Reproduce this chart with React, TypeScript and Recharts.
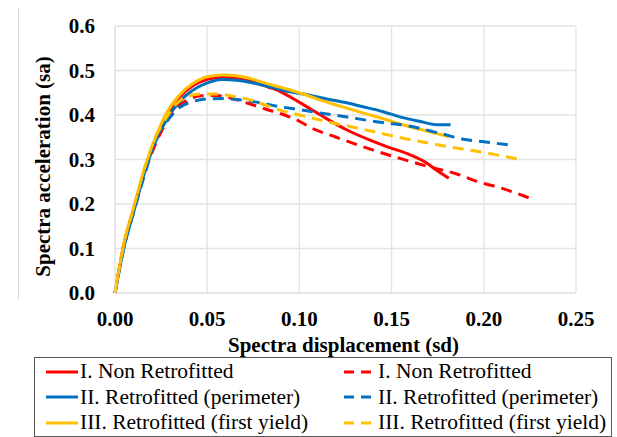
import { LineChart, Line, XAxis, YAxis, CartesianGrid } from "recharts";

// I. Non Retrofitted (solid)
const nonRetroSd = [0, 0.005, 0.01, 0.016, 0.022, 0.028, 0.035, 0.042, 0.05, 0.058, 0.066, 0.075, 0.083, 0.09, 0.097, 0.105, 0.113, 0.125, 0.138, 0.148, 0.158, 0.169, 0.175, 0.181];
const nonRetroSa = [0, 0.112, 0.186, 0.276, 0.345, 0.4, 0.44, 0.465, 0.48, 0.485, 0.482, 0.474, 0.463, 0.452, 0.436, 0.416, 0.396, 0.368, 0.344, 0.328, 0.314, 0.292, 0.274, 0.258];

// II. Retrofitted (perimeter) (solid)
const perimSd = [0, 0.005, 0.01, 0.016, 0.022, 0.028, 0.035, 0.042, 0.05, 0.058, 0.066, 0.075, 0.085, 0.095, 0.105, 0.115, 0.125, 0.134, 0.145, 0.156, 0.165, 0.175, 0.182];
const perimSa = [0, 0.105, 0.18, 0.27, 0.34, 0.39, 0.43, 0.455, 0.472, 0.48, 0.478, 0.472, 0.462, 0.452, 0.445, 0.436, 0.428, 0.419, 0.408, 0.394, 0.386, 0.378, 0.378];

// III. Retrofitted (first yield) (solid)
const yieldSd = [0, 0.005, 0.01, 0.016, 0.022, 0.028, 0.035, 0.042, 0.05, 0.058, 0.066, 0.075, 0.082, 0.09, 0.1, 0.111, 0.122, 0.1325, 0.145, 0.156, 0.165, 0.175, 0.181];
const yieldSa = [0, 0.115, 0.19, 0.28, 0.35, 0.405, 0.445, 0.47, 0.486, 0.49, 0.488, 0.48, 0.471, 0.462, 0.45, 0.434, 0.42, 0.407, 0.392, 0.378, 0.368, 0.358, 0.351];

// dashed counterparts
const nonRetroDashSd = [0, 0.005, 0.01, 0.016, 0.022, 0.028, 0.034, 0.04, 0.047, 0.055, 0.063, 0.073, 0.082, 0.089, 0.098, 0.107, 0.12, 0.14, 0.155, 0.17, 0.185, 0.197, 0.21, 0.225];
const nonRetroDashSa = [0, 0.11, 0.185, 0.27, 0.335, 0.385, 0.418, 0.435, 0.443, 0.444, 0.438, 0.425, 0.413, 0.404, 0.39, 0.37, 0.35, 0.321, 0.302, 0.284, 0.268, 0.25, 0.235, 0.213];

const perimDashSd = [0, 0.005, 0.01, 0.016, 0.022, 0.028, 0.0355, 0.042, 0.05, 0.058, 0.068, 0.078, 0.089, 0.1, 0.112, 0.125, 0.14, 0.161, 0.175, 0.19, 0.2, 0.213];
const perimDashSa = [0, 0.105, 0.18, 0.265, 0.345, 0.385, 0.418, 0.43, 0.436, 0.437, 0.434, 0.428, 0.419, 0.412, 0.404, 0.396, 0.386, 0.374, 0.36, 0.345, 0.34, 0.333];

const yieldDashSd = [0, 0.005, 0.01, 0.016, 0.022, 0.028, 0.034, 0.04, 0.047, 0.055, 0.063, 0.0733, 0.0894, 0.1, 0.115, 0.13, 0.143, 0.157, 0.17, 0.185, 0.197, 0.21, 0.219];
const yieldDashSa = [0, 0.113, 0.19, 0.28, 0.35, 0.395, 0.428, 0.443, 0.447, 0.447, 0.443, 0.434, 0.411, 0.4, 0.385, 0.372, 0.36, 0.347, 0.337, 0.326, 0.318, 0.308, 0.301];

const xTicks = [0, 0.05, 0.1, 0.15, 0.2, 0.25];
const yTicks = [0, 0.1, 0.2, 0.3, 0.4, 0.5, 0.6];

const RED = "#FF0000";
const BLUE = "#0070C0";
const GOLD = "#FFC000";
const FONT = '"Liberation Serif", "Times New Roman", Tinos, "DejaVu Serif", serif';

const toPoints = (sd: number[], sa: number[]) => sd.map((x, i) => ({ sd: x, sa: sa[i] }));

const series = [
  { key: "s1", name: "I. Non Retrofitted", color: RED, dashed: false, data: toPoints(nonRetroSd, nonRetroSa) },
  { key: "s2", name: "II. Retrofitted (perimeter)", color: BLUE, dashed: false, data: toPoints(perimSd, perimSa) },
  { key: "s3", name: "III. Retrofitted (first yield)", color: GOLD, dashed: false, data: toPoints(yieldSd, yieldSa) },
  { key: "d1", name: "I. Non Retrofitted", color: RED, dashed: true, data: toPoints(nonRetroDashSd, nonRetroDashSa) },
  { key: "d2", name: "II. Retrofitted (perimeter)", color: BLUE, dashed: true, data: toPoints(perimDashSd, perimDashSa) },
  { key: "d3", name: "III. Retrofitted (first yield)", color: GOLD, dashed: true, data: toPoints(yieldDashSd, yieldDashSa) },
];

const DASH = "11 7";

function YTitle(props: any) {
  const vb = props.viewBox;
  const cy = vb.y + vb.height / 2 + 7;
  return (
    <text
      x={43}
      y={cy}
      transform={`rotate(-90, 43, ${cy})`}
      textAnchor="middle"
      dominantBaseline="central"
      style={{ fontFamily: FONT }}
      fontWeight="bold"
      fontSize={21}
      fill="#000"
    >
      Spectra acceleration (sa)
    </text>
  );
}

function XTitle(props: any) {
  const vb = props.viewBox;
  const cx = vb.x + vb.width / 2 - 2;
  return (
    <text
      x={cx}
      y={345}
      textAnchor="middle"
      dominantBaseline="central"
      style={{ fontFamily: FONT }}
      fontWeight="bold"
      fontSize={21}
      fill="#000"
    >
      Spectra displacement (sd)
    </text>
  );
}

function LegendBox() {
  const solids = series.filter((s) => !s.dashed);
  const dashes = series.filter((s) => s.dashed);
  const item = (s: (typeof series)[number]) => (
    <div key={s.key} style={{ display: "flex", alignItems: "center", height: 25.5 }}>
      <svg width={32} height={6} style={{ marginRight: 2 }}>
        <line
          x1={0}
          y1={3}
          x2={32}
          y2={3}
          stroke={s.color}
          strokeWidth={3}
          strokeDasharray={s.dashed ? "10 7" : undefined}
        />
      </svg>
      <span>{s.name}</span>
    </div>
  );
  return (
    <div
      style={{
        position: "absolute",
        left: 34,
        top: 357,
        width: 578,
        height: 80,
        boxSizing: "border-box",
        border: "1px solid #595959",
        fontFamily: FONT,
        fontSize: 21.5,
        color: "#000",
        display: "flex",
        paddingLeft: 11,
        paddingTop: 1,
        whiteSpace: "nowrap",
      }}
    >
      <div style={{ width: 298 }}>{solids.map(item)}</div>
      <div>{dashes.map(item)}</div>
    </div>
  );
}

export default function App() {
  return (
    <div style={{ position: "relative", width: 617, height: 437, background: "#fff", fontFamily: FONT }}>
      <style>{`body{margin:0}`}</style>
      <div style={{ position: "absolute", left: 18, top: 8, width: 1, height: 292, background: "#d9d9d9" }} />
      <LineChart width={617} height={437} margin={{ top: 26, right: 41, left: 0, bottom: 74 }} style={{ fontFamily: FONT }}>
        <CartesianGrid stroke="#e3e3e3" strokeWidth={1.3} />
        <XAxis
          dataKey="sd"
          type="number"
          domain={[0, 0.25]}
          ticks={xTicks}
          tickFormatter={(v: number) => v.toFixed(2)}
          allowDuplicatedCategory={false}
          height={70}
          axisLine={{ stroke: "#e3e3e3" }}
          tickLine={false}
          tickSize={6}
          tickMargin={12}
          tick={{ fontFamily: FONT, fontWeight: "bold", fontSize: 21, fill: "#000" }}
          label={<XTitle />}
        />
        <YAxis
          dataKey="sa"
          type="number"
          domain={[0, 0.6]}
          ticks={yTicks}
          tickFormatter={(v: number) => v.toFixed(1)}
          width={115}
          axisLine={{ stroke: "#e3e3e3" }}
          tickLine={false}
          tickSize={6}
          tickMargin={14}
          tick={{ fontFamily: FONT, fontWeight: "bold", fontSize: 21, fill: "#000" }}
          label={<YTitle />}
        />
        {series.map((s) => (
          <Line
            key={s.key}
            data={s.data}
            dataKey="sa"
            name={s.name}
            type="monotone"
            stroke={s.color}
            strokeWidth={3}
            strokeDasharray={s.dashed ? DASH : undefined}
            dot={false}
            activeDot={false}
            isAnimationActive={false}
          />
        ))}
      </LineChart>
      <LegendBox />
    </div>
  );
}
